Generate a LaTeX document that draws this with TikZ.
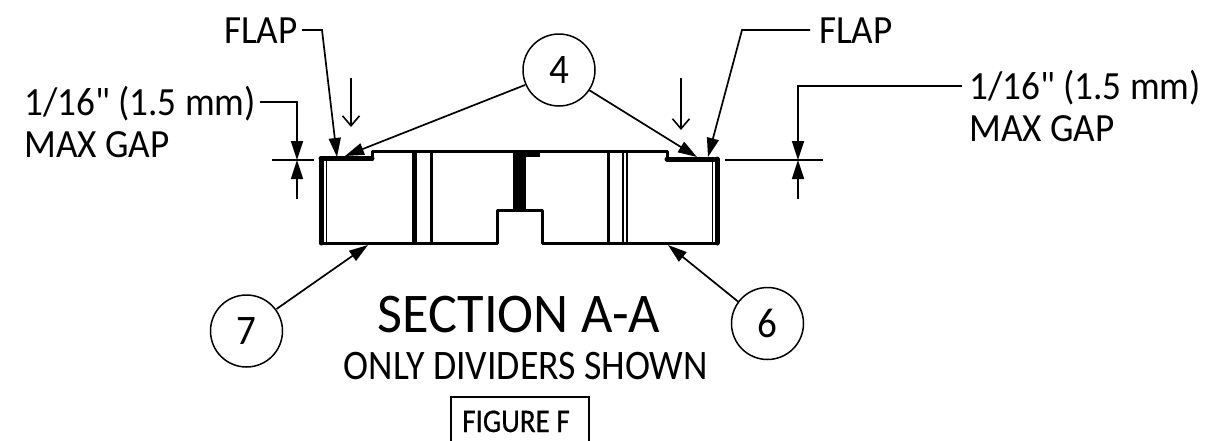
\documentclass[tikz,border=0pt]{standalone}
\usepackage{fontspec}
\newfontfamily\lblfont{Carlito}[FakeStretch=0.93]
\newfontfamily\secfont{Carlito}[FakeStretch=0.97]
\newfontfamily\onlyfont{Carlito}[FakeStretch=0.9]
\newfontfamily\figfont{Carlito}[FakeStretch=0.88,FakeBold=0.6]
\usetikzlibrary{arrows.meta}
\tikzset{
 thinl/.style={line width=1.7pt,line cap=butt,line join=miter},
 lead/.style={thinl,-{Triangle[length=19pt,width=12pt]}},
 openarr/.style={thinl,-{Straight Barb[length=10pt,width=17pt,line width=1.6pt]}},
 part/.style={line width=3pt,line join=round,line cap=round},
 partthick/.style={line width=5pt,line join=round,line cap=round},
 bubble/.style={circle,draw,line width=1.5pt,minimum size=72pt,inner sep=0pt,font=\lblfont\fontsize{42}{42}\selectfont},
 lab/.style={inner sep=0pt,anchor=base west,font=\lblfont\fontsize{40}{40}\selectfont},
}
\begin{document}
\begin{tikzpicture}[x=1pt,y=-1pt]
\useasboundingbox (0,0) rectangle (1224,440);
% section
\draw[part] (321,159) -- (372,159) -- (372,151) -- (667,151) -- (667,160) -- (717,160) -- (717,243) -- (542,243) -- (542,210) -- (497,210) -- (497,243) -- (321,243) -- cycle;
\draw[partthick] (321,159) -- (321,243);
\draw[partthick] (321,158.5) -- (372,158.5);
\draw[partthick] (667,159) -- (717,159);
\draw[partthick] (717,159) -- (717,243);
\draw[white,line width=1pt] (324.5,162) -- (324.5,240);
\draw[line width=1.7pt] (326.5,159) -- (326.5,243);
\draw[line width=1.7pt] (712.5,160) -- (712.5,243);
\draw[line width=5pt] (414,151) -- (414,243);
\draw[line width=3pt] (431,151) -- (431,243);
\draw[line width=3pt] (608,151) -- (608,243);
\draw[line width=1.7pt] (623,151) -- (623,243);
\draw[line width=1.7pt] (627,151) -- (627,243);
\fill (513,151) rectangle (526,209);
\fill (513,149.5) rectangle (540,157);
% bubbles
\node[bubble] (b4) at (559,70) {4};
\node[bubble] (b7) at (246.5,331) {7};
\node[bubble] (b6) at (767.5,323.5) {6};
\coordinate (t4l) at (345,156);
\coordinate (t4r) at (697,157);
\coordinate (t7) at (368,245);
\coordinate (t6) at (668,245);
\draw[lead] (b4) ++(-34,15) coordinate (s4l) -- (t4l);
\draw[lead] (b4) ++(30,20) coordinate (s4r) -- (t4r);
\draw[lead] (b7) ++(30,-22) coordinate (s7) -- (t7);
\draw[lead] (b6) ++(-29.5,-22) coordinate (s6) -- (t6);
% flaps
\node[lab] (fl) at (224,43) {FLAP};
\node[lab] (fr) at (819,43) {FLAP};
\coordinate (fla) at (302,30);
\coordinate (flb) at (322,30);
\coordinate (flt) at (337,157);
\coordinate (fra) at (810,30);
\coordinate (frb) at (742,30);
\coordinate (frt) at (708,157);
\draw[lead] (fla) -- (flb) -- (flt);
\draw[lead] (fra) -- (frb) -- (frt);
% open arrows
\coordinate (oa) at (351,78);
\coordinate (oat) at (351,127);
\coordinate (ob) at (681,78);
\coordinate (obt) at (681,130);
\draw[openarr] (oa) -- (oat);
\draw[openarr] (ob) -- (obt);
% left dim
\node[lab] (d1) at (24,115) {1/16" (1.5 mm)};
\node[lab] (g1) at (24,157) {MAX GAP};
\coordinate (la) at (260,102);
\coordinate (lb) at (297,102);
\coordinate (lt) at (297,160);
\coordinate (lc) at (297,199);
\coordinate (le1) at (272,160);
\coordinate (le2) at (314,160);
\draw[lead] (la) -- (lb) -- (lt);
\draw[lead] (lc) -- (lt);
\draw[thinl] (le1) -- (le2);
% right dim
\node[lab] (d2) at (969,99) {1/16" (1.5 mm)};
\node[lab] (g2) at (969,141) {MAX GAP};
\coordinate (ra) at (962,86);
\coordinate (rb) at (798,86);
\coordinate (rt) at (798,160);
\coordinate (rc) at (798,199);
\coordinate (re1) at (725,160);
\coordinate (re2) at (823,160);
\draw[lead] (ra) -- (rb) -- (rt);
\draw[lead] (rc) -- (rt);
\draw[thinl] (re1) -- (re2);
% titles
\node[inner sep=0pt,anchor=base,font=\secfont\fontsize{56}{56}\selectfont] (sec) at (519,332) {SECTION A-A};
\node[inner sep=0pt,anchor=base,font=\onlyfont\fontsize{42}{42}\selectfont] (only) at (526,379) {ONLY DIVIDERS SHOWN};
\node[inner sep=0pt,anchor=base,font=\figfont\fontsize{33}{33}\selectfont] (fig) at (516,432) {FIGURE F};
\draw[line width=1.7pt] (451,445) -- (451,397) -- (589,397) -- (589,445);
\end{tikzpicture}
\end{document}
